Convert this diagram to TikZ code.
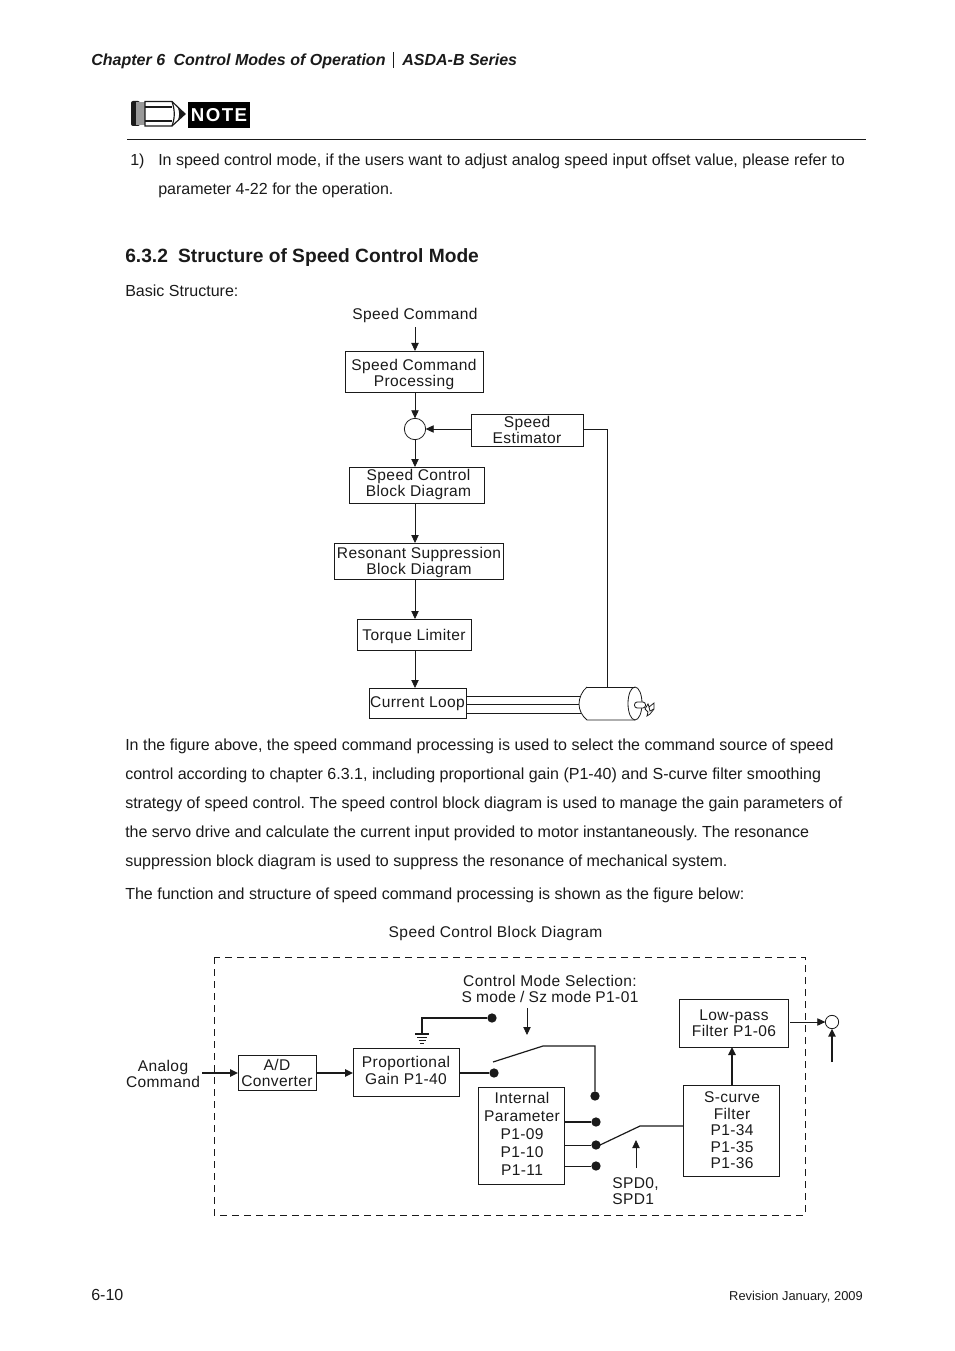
\documentclass[tikz,border=0pt]{standalone}
\usepackage{fontspec}
\setmainfont{Liberation Sans}
\newfontfamily\dia[LetterSpace=2.5]{Liberation Sans}
\usetikzlibrary{arrows.meta,calc}
\definecolor{ink}{HTML}{1A1A1A}
\newdimen\px \px=0.75pt
\frenchspacing
% name, x1, y1, x2, y2, text x shift, text baseline offset, text
\newcommand{\pbox}[8]{\node[boxst,minimum width={(#4-#2)*0.75pt},minimum height={(#5-#3)*0.75pt}] (#1) at ({(#2+#4)/2},{(#3+#5)/2}) {\makebox[0pt]{\hspace*{#6\px}\hspace*{#6\px}\raisebox{-#7\px}[0pt][0pt]{\begin{tabular}[c]{@{}c@{}}#8\end{tabular}}}};}
\tikzset{
  x=0.75pt,y=-0.75pt,
  boxst/.style={draw=ink,line width=0.6pt,inner sep=0pt,outer sep=0pt,text=ink,font=\dia\fontsize{11.65}{12}\selectfont},
  body/.style={anchor=base west,inner sep=0pt,text=ink,font=\fontsize{12.02}{14}\selectfont},
  dlabel/.style={anchor=base,inner sep=0pt,text=ink,align=center,font=\dia\fontsize{11.65}{12}\selectfont},
  wire/.style={draw=ink,line width=0.6pt},
  heavy/.style={draw=ink,line width=1.3pt},
  arr/.style={wire,-{Triangle[length=6pt,width=5.5pt]}},
  harr/.style={heavy,-{Triangle[length=6pt,width=5.5pt]}},
  dotst/.style={circle,fill=ink,minimum size=7pt,inner sep=0pt,outer sep=0pt},
  sumst/.style={circle,draw=ink,line width=0.6pt,inner sep=0pt,outer sep=0pt},
}
\begin{document}
\begin{tikzpicture}
\useasboundingbox (0,0) rectangle (954,1351);
% header
\node[body,font=\bfseries\itshape\fontsize{12.02}{14}\selectfont] (hdr) at (91,66) {Chapter 6\hspace{0.25em} Control Modes of Operation};
\node[body,font=\bfseries\itshape\fontsize{12.02}{14}\selectfont] (hdrb) at (402,66) {ASDA-B Series};
\draw[ink,line width=0.7pt] (393.5,52) -- (393.5,68);
% note icon
\fill[ink,rounded corners=1.5pt] (131,101) rectangle (140,126);
\fill[black!40] (136,102) rectangle (145,125);
\draw[ink,line width=0.9pt,fill=white] (145,101.5) -- (172,101.5) -- (185,114) -- (172,126) -- (145,126) -- cycle;
\draw[ink,line width=0.9pt] (145,107) -- (172,107) (145,121) -- (172,121);
\draw[ink,line width=0.9pt] (172,101.5) .. controls (175,110) and (175,118) .. (172,126);
\fill[ink] (178,108) -- (185,114) -- (178,120) .. controls (179.5,116) and (179.5,112) .. (178,108) -- cycle;
\node[fill=black,text=white,font=\bfseries\fontsize{14}{14}\selectfont,minimum width=46.5pt,minimum height=20pt,inner sep=0pt] (note) at (219,115) {\addfontfeatures{LetterSpace=8}NOTE};
\draw[ink,line width=0.7pt] (127,139.5) -- (866,139.5);
% text
\node[body] (t1) at (130,166) {1)};
\node[body] (t1b) at (158,166) {In speed control mode, if the users want to adjust analog speed input offset value, please refer to};
\node[body] (t2) at (158,195) {parameter 4-22 for the operation.};
\node[body,font=\bfseries\fontsize{14.4}{16}\selectfont] (h1) at (125,263) {6.3.2\hspace{0.25em} Structure of Speed Control Mode};
\node[body] (bs) at (125,297) {Basic Structure:};
\node[body] (p1) at (125,750) {In the figure above, the speed command processing is used to select the command source of speed};
\node[body] (p2) at (125,779) {control according to chapter 6.3.1, including proportional gain (P1-40) and S-curve filter smoothing};
\node[body] (p3) at (125,808) {strategy of speed control. The speed control block diagram is used to manage the gain parameters of};
\node[body] (p4) at (125,837) {the servo drive and calculate the current input provided to motor instantaneously. The resonance};
\node[body] (p5) at (125,866) {suppression block diagram is used to suppress the resonance of mechanical system.};
\node[body] (p6) at (125,899) {The function and structure of speed command processing is shown as the figure below:};
\node[body] (f1) at (91,1300) {6-10};
\node[inner sep=0pt,anchor=base east,text=ink,font=\fontsize{9.65}{11}\selectfont] (f2) at (863,1300) {Revision January, 2009};
% upper diagram
\node[dlabel] (cmd) at (415,320) {Speed Command};
\pbox{proc}{345}{351}{483}{392}{0}{7.5}{Speed Command\\Processing}
\node[sumst,minimum size=16pt] (sum) at (415,429) {};
\pbox{est}{471}{414}{583}{446}{0}{6}{Speed\\Estimator}
\pbox{ctrl}{349}{467}{484}{503}{2}{4.5}{Speed Control\\Block Diagram}
\pbox{res}{334}{543}{503}{579}{0.5}{6.5}{Resonant Suppression\\Block Diagram}
\pbox{lim}{357}{619}{471}{650}{0}{7}{Torque Limiter}
\pbox{loop}{369}{688}{466}{718}{0}{5.5}{Current Loop}
\draw[arr] ($(sum |- cmd.south)+(0,4)$) -- (sum |- proc.north);
\draw[arr] (sum |- proc.south) -- (sum.north);
\draw[arr] (sum.south) -- (sum |- ctrl.north);
\draw[arr] (sum |- ctrl.south) -- (sum |- res.north);
\draw[arr] (sum |- res.south) -- (sum |- lim.north);
\draw[arr] (sum |- lim.south) -- (sum |- loop.north);
\draw[arr] (est.west |- sum) -- (sum.east);
% motor
\coordinate (mtop) at (607,687);
\coordinate (w1) at (581,696);
\coordinate (w2) at (579,704);
\coordinate (w3) at (581,713);
\draw[wire] (587,687) .. controls (582,691) and (579,698) .. (579,704) .. controls (579,710) and (582,716) .. (587,720) -- (635,720);
\draw[wire] (587,687) -- (635,687);
\draw[wire] (635,703.5) ellipse [x radius=7, y radius=16.5];
\draw[wire,fill=white,rounded corners=2pt] (634.5,702) rectangle (645.5,708);
\draw[wire] (est.east |- sum) -| (mtop);
\draw[wire] (loop.east |- w1) -- (w1);
\draw[wire] (loop.east |- w2) -- (w2);
\draw[wire] (loop.east |- w3) -- (w3);
\draw[ink,line width=0.6pt] (645,709) -- (648,704) -- (649,707) -- (654,703) -- (654,709) -- (650,714) -- (647,716) -- (648,712) -- cycle;
\draw[ink,line width=0.6pt] (649,707) -- (650,711) -- (654,709);
% lower diagram
\node[dlabel] (title) at (495.5,937) {Speed Control Block Diagram};
\draw[ink,line width=0.6pt,dash pattern=on 5.5pt off 3.5pt] (214,957) rectangle (805,1215);
\node[dlabel] (analog) at (163,1087) {Analog\\Command};
\pbox{ad}{238}{1055}{316}{1090}{0}{7}{A/D\\Converter}
\pbox{prop}{353}{1048}{459}{1096}{0}{5}{Proportional\\[0.75pt]Gain P1-40}
\pbox{int}{478}{1087}{564}{1184}{1}{5}{Internal\\[1.5pt]Parameter\\[1.5pt]P1-09\\[1.5pt]P1-10\\[1.5pt]P1-11}
\pbox{scv}{683}{1085}{779}{1176}{1}{6}{S-curve\\[0.4pt]Filter\\[0.4pt]P1-34\\[0.4pt]P1-35\\[0.4pt]P1-36}
\pbox{lpf}{679}{999}{788}{1047}{0.5}{6.5}{Low-pass\\Filter P1-06}
\node[sumst,minimum size=10pt] (out) at (832,1022) {};
\node[dlabel] (cms) at (550,1002) {Control Mode Selection:\\{\spaceskip=3.1pt S mode / Sz mode P1-01}};
\node[dlabel,align=left,anchor=base west] (spd) at (612,1204) {SPD0,\\SPD1};
\node[dotst] (dgnd) at (492,1018) {};
\node[dotst] (dprop) at (494,1073) {};
\node[dotst] (da) at (595,1096) {};
\node[dotst] (db) at (596,1122) {};
\node[dotst] (dc) at (596,1145) {};
\node[dotst] (dd) at (596,1166) {};
\coordinate (gnd) at (422,1034);
\coordinate (outup) at (832,1062);
\coordinate (swa) at (493,1062);
\coordinate (swb) at (543,1046);
\coordinate (swc) at (600,1145);
\coordinate (swd) at (640,1126);
\coordinate (cmsend) at (527,1008);
\coordinate (cmstip) at (527,1035);
\coordinate (spdend) at (636,1168);
\coordinate (spdtip) at (636,1140);
\draw[harr] (202,1073) -- (ad.west |- 0,1073);
\draw[harr] (ad.east |- 0,1073) -- (prop.west |- 0,1073);
\draw[heavy] (prop.east |- dprop) -- (dprop);
\draw[heavy] (dgnd) -| (gnd);
\draw[ink,line width=1.1pt] ($(gnd)+(-7,0)$) -- ($(gnd)+(7,0)$);
\draw[ink,line width=0.9pt] ($(gnd)+(-5,3.5)$) -- ($(gnd)+(5,3.5)$);
\draw[ink,line width=0.8pt] ($(gnd)+(-3.5,6.5)$) -- ($(gnd)+(3.5,6.5)$);
\draw[ink,line width=0.8pt] ($(gnd)+(-2,9.5)$) -- ($(gnd)+(2,9.5)$);
\draw[arr] (cmsend) -- (cmstip);
\draw[wire,line width=0.9pt] (swa) -- (swb) -| (da);
\draw[heavy] (int.east |- db) -- (db);
\draw[wire] (int.east |- dc) -- (dc);
\draw[wire] (int.east |- dd) -- (dd);
\draw[wire,line width=0.9pt] (swc) -- (swd) -- (swd -| scv.west);
\draw[arr] (spdend) -- (spdtip);
\draw[harr] (732,1085) -- (732,1047);
\draw[arr] (790,1022) -- (out.west);
\draw[harr] (outup) -- (out.south);
\end{tikzpicture}
\end{document}
